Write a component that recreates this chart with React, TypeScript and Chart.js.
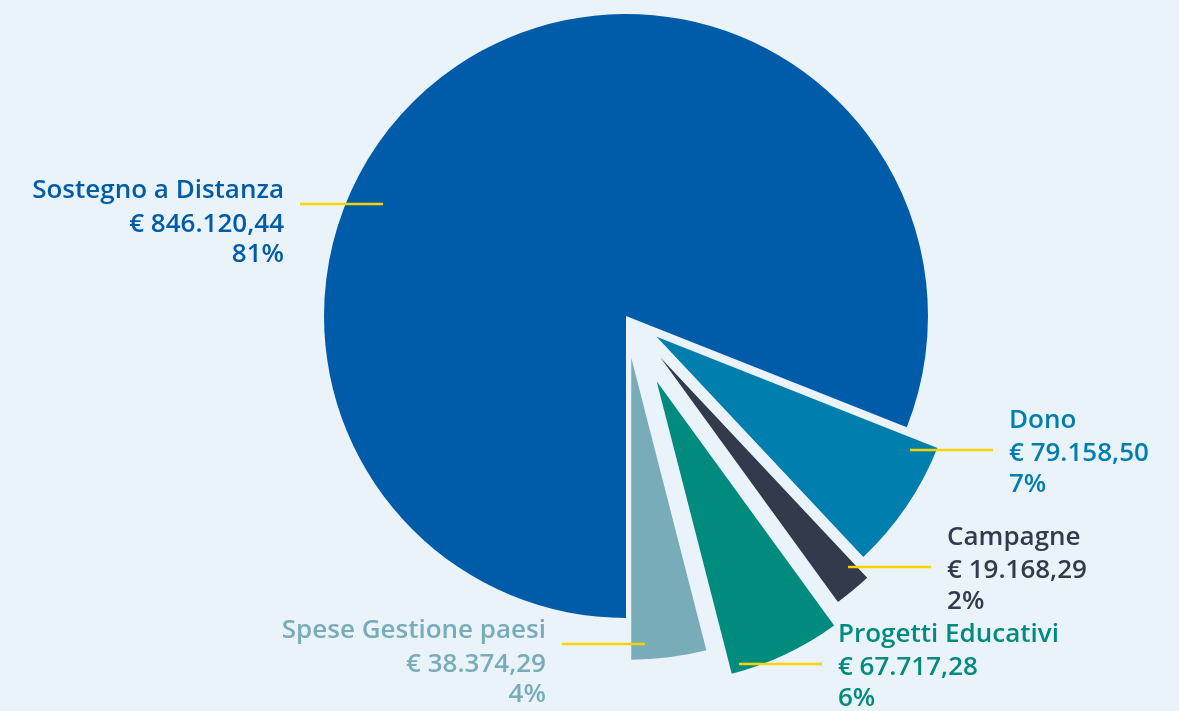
import React, { useEffect, useRef } from 'react';
import { Chart, registerables } from 'chart.js';

Chart.register(...registerables);

// ---- data ----
const categories = ['Sostegno a Distanza', 'Dono', 'Campagne', 'Progetti Educativi', 'Spese Gestione paesi'];
const amounts = [846120.44, 79158.5, 19168.29, 67717.28, 38374.29];
const percentages = [81, 7, 2, 6, 4];

// ---- style ----
const sliceColors = ['#005CA9', '#007FAE', '#333A4B', '#008B7F', '#78ACB8'];
const textColors = ['#005CA9', '#007FAE', '#333A4B', '#008B7F', '#78ACB8'];
const sliceOffsets = [0, 148, 216, 288, 168];
const labelSides = ['left', 'right', 'right', 'right', 'left'];
const anchorAngleFrac = [0.3935, 0.098, 0.186, 0.915, 0.81];
const anchorRadiusFrac = [0.886, 0.919, 0.931, 0.975, 0.949];
const PIE_RADIUS = 302;
const BG = '#EBF3FA';
const LEADER = '#F9D300';
const FONT = '600 26px "Open Sans"';

function formatEuro(v: number): string {
  const fixed = v.toFixed(2);
  const [intPart, dec] = fixed.split('.');
  const withDots = intPart.replace(/\B(?=(\d{3})+(?!\d))/g, '.');
  return '€ ' + withDots + ',' + dec;
}

function fixFactor(circumference: number): number {
  return 1 - Math.sin(Math.min(Math.PI, circumference || 0));
}

// Chart.js grows and narrows exploded arcs; undo that so every slice keeps
// the main pie's radius and its true angular size.
const explodeKeeper = {
  id: 'explodeKeeper',
  afterDatasetUpdate(chart: any) {
    const meta = chart.getDatasetMeta(0);
    meta.data.forEach((arc: any, i: number) => {
      const o = (sliceOffsets[i] || 0) / 4;
      const ro = o * fixFactor(arc.circumference);
      arc.outerRadius = PIE_RADIUS - ro;
      arc.$origStart = arc.startAngle;
      arc.$origEnd = arc.endAngle;
      const d = ro / (2 * Math.PI * PIE_RADIUS);
      arc.startAngle = arc.startAngle - d;
      arc.endAngle = arc.endAngle + d;
    });
  },
};

const labelPlugin = {
  id: 'leaderLabels',
  afterDatasetsDraw(chart: any) {
    const ctx = chart.ctx;
    const meta = chart.getDatasetMeta(0);
    ctx.save();
    ctx.font = FONT;
    meta.data.forEach((arc: any, i: number) => {
      const x = arc.x;
      const y = arc.y;
      const startAngle = arc.$origStart ?? arc.startAngle;
      const endAngle = arc.$origEnd ?? arc.endAngle;
      const t = (sliceOffsets[i] || 0) / 4;
      const half = (startAngle + endAngle) / 2;
      const cx = x + Math.cos(half) * t;
      const cy = y + Math.sin(half) * t;
      const a = startAngle + anchorAngleFrac[i] * (endAngle - startAngle);
      const r = anchorRadiusFrac[i] * PIE_RADIUS;
      const px = cx + Math.cos(a) * r;
      const py = Math.round(cy + Math.sin(a) * r);
      const side = labelSides[i];
      const len = 83;
      const x2 = side === 'right' ? px + len : px - len;
      ctx.strokeStyle = LEADER;
      ctx.lineWidth = 2.6;
      ctx.beginPath();
      ctx.moveTo(px, py);
      ctx.lineTo(x2, py);
      ctx.stroke();

      const tx = side === 'right' ? x2 + 16 : x2 - 16;
      ctx.textAlign = side === 'right' ? 'left' : 'right';
      ctx.textBaseline = 'alphabetic';
      ctx.fillStyle = textColors[i];
      const dys = side === 'right' ? [-22, 11, 42] : [-6, 28, 58];
      const lines = [categories[i], formatEuro(amounts[i]), percentages[i] + '%'];
      lines.forEach((s, k) => ctx.fillText(s, tx, py + dys[k]));
    });
    ctx.restore();
  },
};

export default function App() {
  const ref = useRef<HTMLCanvasElement | null>(null);

  useEffect(() => {
    document.body.style.margin = '0';
    document.body.style.background = BG;
    const canvas = ref.current;
    if (!canvas) return;
    const chart = new Chart(canvas, {
      type: 'pie',
      data: {
        labels: categories,
        datasets: [
          {
            data: percentages,
            backgroundColor: sliceColors,
            borderWidth: 0,
            offset: sliceOffsets,
            hoverOffset: 0,
            rotation: 180,
            radius: PIE_RADIUS,
            clip: false,
          } as any,
        ],
      },
      options: {
        responsive: false,
        animation: false,
        devicePixelRatio: 1,
        rotation: 180,
        radius: PIE_RADIUS,
        layout: { padding: { left: 73, right: 0, top: 0, bottom: 79 } },
        plugins: {
          legend: { display: false },
          tooltip: { enabled: false },
        },
        events: [],
      } as any,
      plugins: [explodeKeeper, labelPlugin],
    });
    let alive = true;
    if ((document as any).fonts && (document as any).fonts.load) {
      (document as any).fonts.load(FONT).then(() => {
        if (alive) chart.draw();
      });
    }
    return () => {
      alive = false;
      chart.destroy();
    };
  }, []);

  return (
    <div style={{ width: 1179, height: 711, background: BG, position: 'relative' }}>
      <canvas ref={ref} width={1179} height={711} style={{ display: 'block' }} />
    </div>
  );
}
